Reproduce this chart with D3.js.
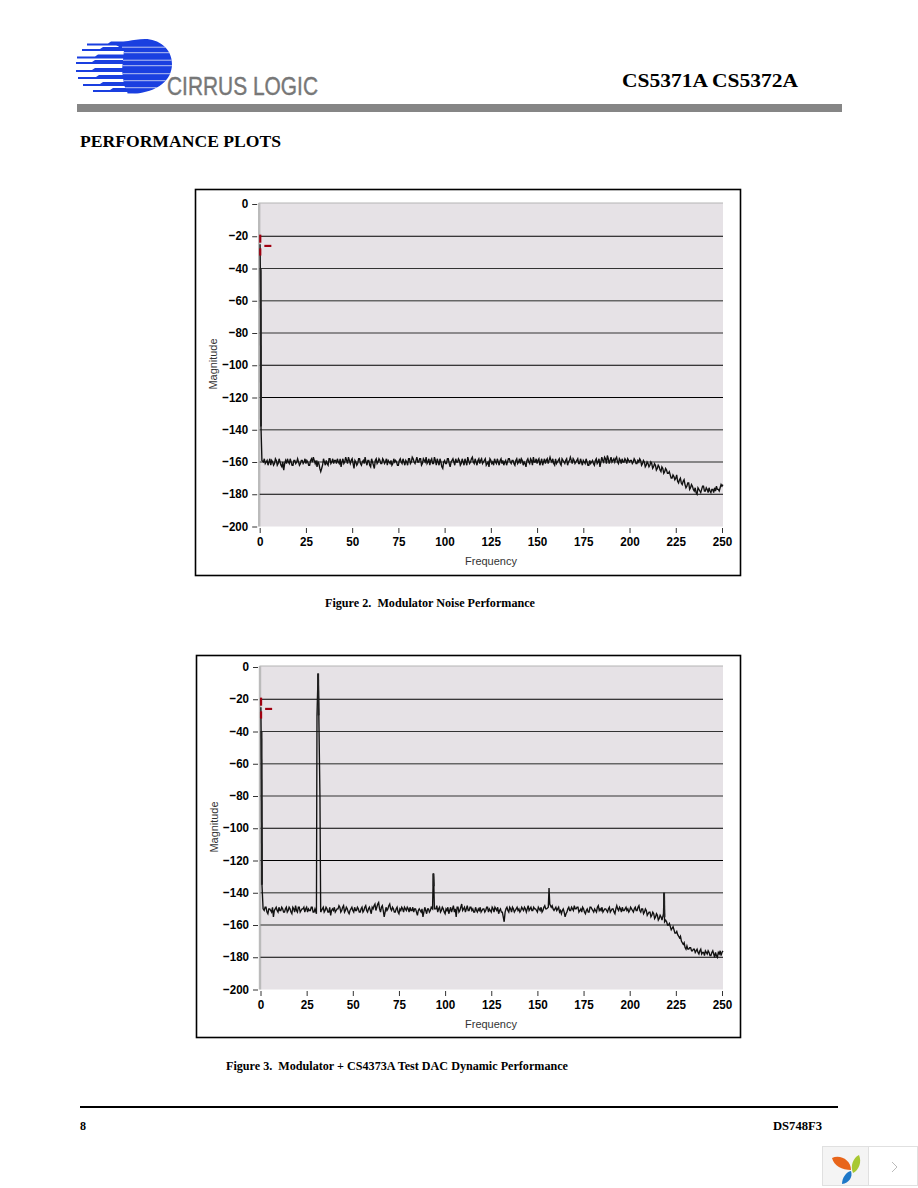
<!DOCTYPE html>
<html lang="en">
<head>
<meta charset="UTF-8">
<title>CS5371A CS5372A Performance Plots</title>
<script src="https://cdnjs.cloudflare.com/ajax/libs/d3/7.8.5/d3.min.js"></script>
<style>
    body { margin: 0; background: #fff; }
    svg { display: block; }
    .serif { font-family: "Liberation Serif", serif; font-weight: bold; fill: #000; }
    .tick text { font-family: "Liberation Sans", sans-serif; font-weight: bold; font-size: 13.5px; fill: #000; }
    .tick line { stroke: #333; }
    .axis-title { font-family: "Liberation Sans", sans-serif; font-size: 11px; fill: #333; }
</style>
</head>
<body>
<svg id="page" width="918" height="1188"></svg>
<script>
// axis values
const freqTicks = [0, 25, 50, 75, 100, 125, 150, 175, 200, 225, 250];
const magTicks = [0, -20, -40, -60, -80, -100, -120, -140, -160, -180, -200];

// noise floor, one value per frequency unit starting at 1
const fig2Noise = [
    -159, -160, -161, -159, -160, -162, -160, -161, -159, -161,
    -160, -163, -165, -159, -158, -161, -160, -162, -159, -160,
    -160, -161, -159, -160, -161, -160, -162, -158, -157, -161,
    -163, -161, -166, -162, -160, -159, -162, -158, -160, -161,
    -159, -158, -161, -163, -158, -160, -159, -157, -161, -158,
    -164, -160, -161, -158, -162, -159, -157, -162, -159, -163,
    -160, -164, -158, -160, -159, -161, -159, -160, -162, -160,
    -159, -161, -160, -160, -162, -158, -161, -160, -159, -162,
    -158, -160, -158, -161, -157, -160, -158, -161, -159, -157,
    -160, -162, -158, -161, -159, -158, -162, -160, -164, -159,
    -161, -158, -163, -159, -160, -158, -160, -159, -161, -160,
    -158, -162, -159, -160, -157, -161, -160, -159, -161, -158,
    -160, -158, -161, -163, -159, -160, -158, -161, -160, -159,
    -161, -162, -159, -160, -158, -161, -159, -162, -158, -160,
    -161, -159, -160, -163, -158, -161, -159, -157, -160, -161,
    -158, -160, -162, -158, -159, -161, -157, -160, -161, -158,
    -160, -158, -162, -159, -161, -158, -160, -157, -161, -159,
    -160, -158, -161, -160, -159, -161, -160, -162, -161, -159,
    -162, -158, -160, -163, -157, -160, -158, -156, -161, -157,
    -159, -160, -157, -161, -159, -158, -160, -159, -158, -160,
    -159, -160, -159, -161, -160, -159, -161, -160, -162, -161,
    -162, -161, -163, -162, -164, -163, -166, -164, -166, -165,
    -167, -168, -170, -169, -170, -172, -171, -173, -172, -174,
    -175, -173, -176, -175, -178, -179, -176, -178, -177, -175,
    -178, -177, -176, -179, -177, -176, -175, -177, -176, -175
];
// the same trace half a unit later (1.5, 2.5, ...)
const fig2NoiseMid = [
    -161, -158, -160, -162, -158, -159, -162, -158, -162, -158,
    -162, -160, -161, -161, -160, -158, -162, -159, -161, -158,
    -162, -159, -161, -158, -159, -162, -159, -160, -159, -159,
    -160, -164, -164, -158, -162, -161, -158, -161, -158, -159,
    -161, -160, -158, -160, -161, -157, -161, -159, -159, -161,
    -159, -162, -158, -161, -160, -161, -160, -159, -162, -158,
    -162, -159, -161, -158, -161, -158, -161, -158, -159, -161,
    -162, -158, -159, -162, -159, -160, -158, -162, -160, -158,
    -161, -157, -160, -159, -160, -158, -162, -158, -160, -161,
    -158, -159, -161, -157, -162, -160, -158, -163, -160, -161,
    -158, -161, -160, -158, -162, -160, -158, -162, -158, -162,
    -160, -157, -161, -158, -160, -158, -162, -158, -159, -161,
    -159, -162, -160, -158, -161, -162, -160, -158, -162, -158,
    -159, -160, -162, -158, -160, -159, -161, -159, -161, -158,
    -158, -162, -161, -159, -160, -158, -162, -160, -158, -159,
    -162, -158, -160, -161, -158, -159, -159, -158, -162, -161,
    -159, -161, -158, -160, -159, -162, -159, -159, -158, -161,
    -159, -161, -158, -162, -160, -158, -162, -159, -160, -161,
    -159, -161, -158, -160, -159, -157, -161, -158, -159, -160,
    -158, -158, -160, -158, -161, -160, -158, -161, -159, -159,
    -161, -158, -161, -159, -158, -162, -159, -163, -160, -163,
    -160, -164, -161, -165, -162, -165, -163, -167, -164, -167,
    -166, -170, -168, -171, -168, -173, -170, -174, -171, -176,
    -173, -177, -174, -177, -176, -180, -177, -179, -175, -178,
    -176, -179, -178, -177, -179, -178, -177, -178, -174, -174
];
const fig3Noise = [
    -150, -151, -149, -153, -150, -152, -155, -150, -151, -149,
    -151, -150, -152, -149, -151, -150, -153, -150, -148, -152,
    -149, -151, -150, -152, -149, -150, -151, -149, -152, -150,
    -154, -152, -153, -149, -151, -150, -152, -154, -150, -149,
    -151, -150, -149, -151, -148, -151, -150, -153, -150, -151,
    -149, -151, -150, -152, -149, -151, -148, -152, -149, -153,
    -150, -147, -149, -146, -152, -148, -155, -149, -150, -147,
    -151, -150, -152, -149, -153, -151, -150, -149, -151, -150,
    -149, -151, -152, -150, -154, -150, -152, -155, -149, -153,
    -150, -151, -150, -149, -150, -152, -149, -151, -150, -153,
    -151, -153, -149, -150, -152, -155, -149, -151, -147, -150,
    -152, -148, -151, -149, -150, -152, -151, -150, -149, -151,
    -150, -151, -149, -150, -152, -150, -149, -151, -153, -150,
    -152, -158, -150, -151, -149, -152, -150, -151, -149, -150,
    -151, -150, -149, -152, -148, -150, -151, -149, -150, -152,
    -150, -149, -151, -148, -150, -151, -147, -148, -151, -149,
    -150, -152, -153, -150, -155, -152, -149, -151, -150, -148,
    -150, -149, -151, -152, -150, -153, -150, -152, -149, -151,
    -150, -152, -148, -150, -149, -151, -150, -152, -149, -151,
    -150, -153, -148, -151, -150, -149, -151, -149, -150, -151,
    -150, -152, -149, -151, -148, -152, -150, -152, -151, -153,
    -152, -154, -153, -155, -154, -156, -155, -158, -159, -158,
    -160, -161, -162, -163, -165, -166, -168, -170, -172, -174,
    -173, -175, -174, -176, -175, -176, -177, -176, -178, -177,
    -176, -178, -177, -179, -176, -180, -179, -177, -176, -177
];
const fig3NoiseMid = [
    -152, -149, -152, -150, -151, -149, -151, -149, -152, -151,
    -149, -152, -150, -152, -149, -152, -149, -152, -151, -149,
    -152, -150, -149, -150, -152, -151, -149, -152, -150, -152,
    -150, -150, -150, -152, -149, -152, -149, -151, -151, -152,
    -150, -148, -152, -149, -152, -149, -152, -151, -149, -152,
    -151, -149, -152, -150, -152, -149, -151, -150, -151, -149,
    -148, -151, -147, -150, -149, -151, -152, -151, -148, -150,
    -149, -152, -150, -152, -150, -149, -152, -150, -149, -152,
    -151, -149, -150, -152, -151, -151, -150, -152, -151, -150,
    -152, -149, -152, -151, -148, -150, -152, -149, -152, -150,
    -149, -151, -152, -148, -150, -149, -152, -149, -151, -149,
    -150, -151, -149, -151, -152, -149, -152, -151, -152, -150,
    -152, -149, -152, -151, -149, -152, -150, -149, -151, -152,
    -155, -152, -149, -152, -150, -149, -152, -150, -151, -152,
    -149, -151, -150, -150, -151, -149, -151, -150, -151, -149,
    -151, -152, -149, -150, -152, -149, -149, -150, -150, -151,
    -149, -151, -151, -152, -153, -150, -151, -149, -151, -150,
    -149, -152, -150, -149, -152, -151, -152, -149, -150, -152,
    -151, -149, -151, -151, -152, -150, -151, -150, -152, -150,
    -152, -150, -150, -149, -152, -151, -150, -151, -152, -149,
    -151, -150, -151, -149, -151, -150, -153, -150, -154, -152,
    -155, -152, -156, -153, -157, -154, -157, -156, -157, -160,
    -159, -163, -161, -165, -164, -167, -167, -171, -171, -175,
    -175, -174, -176, -175, -177, -175, -178, -175, -177, -179,
    -177, -176, -179, -177, -178, -177, -180, -178, -179, -176
];

// points of the peaks as [frequency, magnitude], they replace the noise they span
const fig2Peaks = [
    [[0.2, -25], [0.5, -60], [0.7, -138], [1.2, -159]]
];
const fig3Peaks = [
    [[0.2, -25], [0.5, -60], [0.8, -135], [1.4, -150]],
    [[30.3, -153], [30.6, -30], [31.2, -4], [31.6, -30], [32.2, -80], [32.6, -152]],
    [[93.2, -150], [93.6, -128], [93.9, -135], [94.2, -150]],
    [[155.9, -149], [156.3, -137], [156.7, -147]],
    [[218.3, -153], [218.6, -140], [218.9, -158]]
];

// parts of the peaks drawn heavier in the original
const fig2Heavy = [[[0.55, -40], [0.7, -138]]];
const fig3Heavy = [
    [[0.55, -40], [0.8, -135]],
    [[31.2, -4], [31.45, -30]],
    [[93.7, -128], [93.85, -136]],
    [[218.6, -140], [218.8, -155]]
];

// little red glitch marks near the origin, [f1, m1, f2, m2]
const redMarks = [
    [0.3, -19, 0.3, -24],
    [0.3, -27.5, 0.3, -32],
    [2.5, -26, 6.3, -26]
];

// blue bands of the logo: band centre, left tip, where it gets thick
const logoBandY = [44.5, 50, 57.5, 63, 71, 78, 85, 91];
const logoBandLeft = [87, 82, 77, 76, 76, 78, 83, 93];
const logoBandStep = [108, 100, 95, 92, 92, 96, 100, 110];

const svg = d3.select("#page");

function mergeTrace(noise, noiseMid, peaks) {
    const pts = noise.map((v, i) => [i + 1, v])
        .concat(noiseMid.map((v, i) => [i + 1.5, v]))
        .filter(p => !peaks.some(g => p[0] >= g[0][0] - 0.4 && p[0] <= g[g.length - 1][0] + 0.4));
    peaks.forEach(g => g.forEach(p => pts.push(p)));
    return pts.sort((a, b) => a[0] - b[0]);
}

function gridColor(m) {
    if (m === -20 || m === -180 || m === -100 || m === -120) return "#000";
    if (m === -40 || m === -80) return "#333";
    return "#666";
}

function drawPlot(frame, px, py, titleX, titleY, trace, heavy) {
    const g = svg.append("g");
    const x = d3.scaleLinear().domain([0, 250]).range(px);
    const y = d3.scaleLinear().domain([0, -200]).range(py);

    g.append("rect")
        .attr("x", frame.x).attr("y", frame.y)
        .attr("width", frame.w).attr("height", frame.h)
        .attr("fill", "#fff").attr("stroke", "#000").attr("stroke-width", 1.6);

    g.append("rect")
        .attr("x", x(0) - 1.5).attr("y", y(0) - 1)
        .attr("width", x(250) - x(0) + 2.5).attr("height", y(-200) - y(0) + 1)
        .attr("fill", "#e6e2e6");
    g.append("line")
        .attr("x1", x(0) - 1).attr("x2", x(250) + 1)
        .attr("y1", y(0) - 1).attr("y2", y(0) - 1)
        .attr("stroke", "#b4b4b4").attr("stroke-width", 1);
    g.append("line")
        .attr("x1", x(0) - 0.5).attr("x2", x(0) - 0.5)
        .attr("y1", y(0) - 1).attr("y2", y(-200))
        .attr("stroke", "#bbb").attr("stroke-width", 2.4);

    g.selectAll(".grid")
        .data(magTicks.filter(m => m !== 0 && m !== -200))
        .enter().append("line")
        .attr("class", "grid")
        .attr("x1", x(0)).attr("x2", x(250) + 1)
        .attr("y1", d => y(d)).attr("y2", d => y(d))
        .attr("stroke", gridColor)
        .attr("stroke-width", d => gridColor(d) === "#666" ? 1.5 : 1);

    const yAxis = d3.axisLeft(y).tickValues(magTicks).tickSize(5).tickPadding(4)
        .tickFormat(d => d === 0 ? "0" : "\u2212" + Math.abs(d));
    g.append("g")
        .attr("transform", `translate(${x(0) - 2.5},0)`)
        .call(yAxis)
        .call(a => a.select(".domain").remove())
        .call(a => a.selectAll(".tick text").attr("dy", "0.26em"));

    const xAxis = d3.axisBottom(x).tickValues(freqTicks).tickSize(5).tickPadding(3);
    g.append("g")
        .attr("transform", `translate(0,${y(-200) + 1.5})`)
        .call(xAxis)
        .call(a => a.select(".domain").remove());

    // squeeze the labels, the original font is a narrow one
    g.selectAll(".tick text")
        .attr("textLength", function () { return this.textContent.length * 6.5; })
        .attr("lengthAdjust", "spacingAndGlyphs");

    const line = d3.line().x(d => x(d[0])).y(d => y(d[1]));
    g.append("path")
        .attr("d", line(trace))
        .attr("fill", "none").attr("stroke", "#111").attr("stroke-width", 1.35);
    g.selectAll(".heavy")
        .data(heavy)
        .enter().append("path")
        .attr("class", "heavy")
        .attr("d", line)
        .attr("fill", "none").attr("stroke", "#222").attr("stroke-width", 2);

    g.selectAll(".red")
        .data(redMarks)
        .enter().append("line")
        .attr("class", "red")
        .attr("x1", d => x(d[0])).attr("y1", d => y(d[1]))
        .attr("x2", d => x(d[2])).attr("y2", d => y(d[3]))
        .attr("stroke", "#a00010").attr("stroke-width", 2.2);

    g.append("text").attr("class", "axis-title")
        .attr("x", titleX).attr("y", y(-200) + 38)
        .attr("text-anchor", "middle")
        .attr("textLength", 52).attr("lengthAdjust", "spacingAndGlyphs")
        .text("Frequency");
    g.append("text").attr("class", "axis-title")
        .attr("transform", `translate(${frame.x + 21},${titleY}) rotate(-90)`)
        .attr("text-anchor", "middle")
        .attr("textLength", 51).attr("lengthAdjust", "spacingAndGlyphs")
        .text("Magnitude");
}

function serifText(str, x, y, size, width) {
    svg.append("text").attr("class", "serif")
        .attr("x", x).attr("y", y)
        .attr("font-size", size)
        .attr("textLength", width).attr("lengthAdjust", "spacingAndGlyphs")
        .attr("xml:space", "preserve")
        .text(str);
}

function drawLogo() {
    const logo = svg.append("g");
    const blue = "#1a3fe0";
    logo.append("clipPath").attr("id", "blob")
        .append("path").attr("d", "M133,94 C158,92 172,80 172,64 C172,48 158,39 145,39 C132,39 124,43 113,43 L124,50 L122,70 L124,85 L128,94 Z");
    logo.selectAll(".band").data(logoBandY).enter().append("path")
        .attr("class", "band")
        .attr("d", (d, i) => {
            const l = logoBandLeft[i], s = logoBandStep[i];
            return `M${l},${d - 1} L${s},${d - 1} L${s + 3},${d - 3} L135,${d - 3} L135,${d + 1} L${l},${d + 1} Z`;
        })
        .attr("fill", blue);
    logo.append("rect").attr("x", 110).attr("y", 38).attr("width", 64).attr("height", 58)
        .attr("fill", blue).attr("clip-path", "url(#blob)");
    logo.selectAll(".cut").data(logoBandY).enter().append("rect")
        .attr("class", "cut")
        .attr("x", 122).attr("y", d => d + 2.2)
        .attr("width", 50).attr("height", 1)
        .attr("clip-path", "url(#blob)")
        .attr("fill", "#b9c4f2");

    logo.append("text")
        .attr("x", 167).attr("y", 95)
        .attr("font-family", "Liberation Sans, sans-serif")
        .attr("font-size", 25)
        .attr("fill", "#777").attr("stroke", "#777").attr("stroke-width", 0.4)
        .attr("textLength", 151).attr("lengthAdjust", "spacingAndGlyphs")
        .text("CIRRUS LOGIC");
}

function drawWidget() {
    const w = svg.append("g");
    w.append("rect").attr("x", 822.5).attr("y", 1146.5).attr("width", 46).attr("height", 39)
        .attr("fill", "#f4f4f4").attr("stroke", "#e0e0e0");
    w.append("rect").attr("x", 868.5).attr("y", 1146.5).attr("width", 49).attr("height", 39)
        .attr("fill", "#fff").attr("stroke", "#e0e0e0");
    w.append("path").attr("d", "M832,1158 C840,1154 851,1160 851,1170 C842,1170 834,1166 832,1158 Z").attr("fill", "#e8651a");
    w.append("path").attr("d", "M859,1155 C862,1162 859,1170 853,1173 C850,1166 853,1158 859,1155 Z").attr("fill", "#a8c832");
    w.append("path").attr("d", "M842,1184 C842,1178 846,1172 851,1171 C853,1177 849,1183 842,1184 Z").attr("fill", "#1e78c8");
    w.append("path").attr("d", "M892,1162 L897,1167 L892,1172").attr("fill", "none").attr("stroke", "#bbb").attr("stroke-width", 1);
}

drawLogo();
serifText("CS5371A CS5372A", 622, 87, 19, 176);
svg.append("rect").attr("x", 77).attr("y", 104).attr("width", 765).attr("height", 8).attr("fill", "#868686");
serifText("PERFORMANCE PLOTS", 80, 147, 17, 201);

drawPlot({x: 195.5, y: 189.5, w: 545, h: 386}, [259.7, 722], [204, 526.5], 491, 364,
    mergeTrace(fig2Noise, fig2NoiseMid, fig2Peaks), fig2Heavy);
serifText("Figure 2.  Modulator Noise Performance", 325, 607, 12, 210);

drawPlot({x: 196.5, y: 655.5, w: 544, h: 382}, [260.5, 722], [667, 989.5], 491, 827,
    mergeTrace(fig3Noise, fig3NoiseMid, fig3Peaks), fig3Heavy);
serifText("Figure 3.  Modulator + CS4373A Test DAC Dynamic Performance", 226, 1070, 12, 342);

svg.append("rect").attr("x", 80).attr("y", 1106).attr("width", 758).attr("height", 2).attr("fill", "#000");
serifText("8", 80, 1130, 12, 6);
serifText("DS748F3", 773, 1130, 12, 49);

drawWidget();
</script>
</body>
</html>
